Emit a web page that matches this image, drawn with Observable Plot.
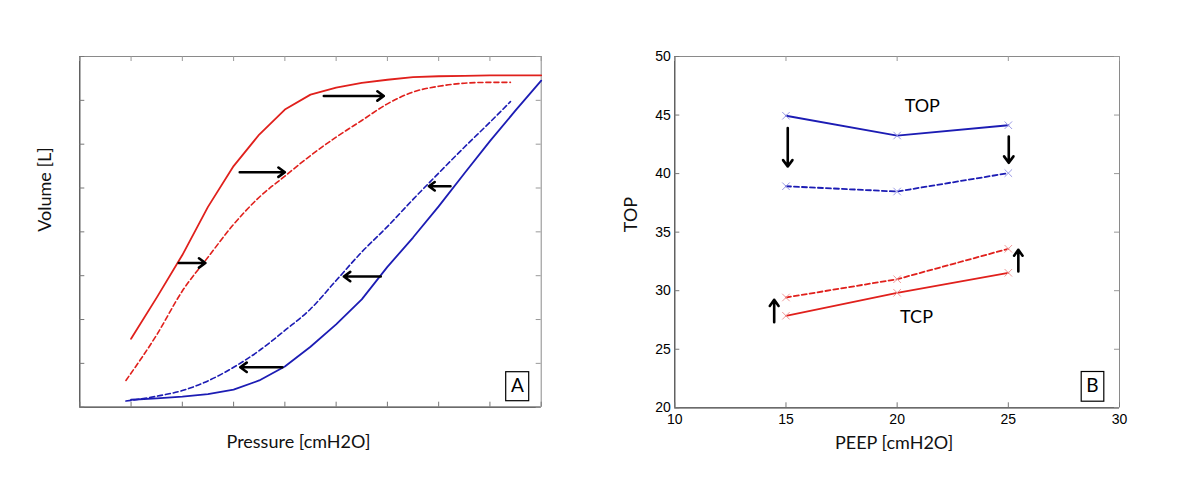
<!DOCTYPE html>
<html><head><meta charset="utf-8">
<script src="https://cdn.jsdelivr.net/npm/d3@7"></script>
<script src="https://cdn.jsdelivr.net/npm/@observablehq/plot@0.6"></script>
<style>
body{margin:0;background:#fff;}
#wrap{position:relative;width:1200px;height:480px;overflow:hidden;}
#a,#b{position:absolute;top:0;}
#a{left:0}#b{left:600px}
</style></head><body><div id="wrap"><div id="a"></div><div id="b"></div></div>
<script>
// ---------- Panel A : pressure-volume curves ----------
const aTicksX = [0,1,2,3,4,5,6,7,8,9];
const aTicksY = [0,1,2,3,4,5,6,7,8];
const inflSolidX = [1,1.5,2,2.5,3,3.5,4,4.5,5,5.5,6,6.5,7,7.5,8,8.5,9];
const inflSolidY = [1.56,2.5,3.47,4.57,5.5,6.22,6.79,7.13,7.29,7.4,7.47,7.53,7.55,7.56,7.57,7.57,7.57];
const inflDashX = [0.9,1.5,2,2.5,3,3.5,4,4.5,5,5.5,6,6.5,7,7.5,8,8.4];
const inflDashY = [0.61,1.65,2.65,3.42,4.17,4.79,5.27,5.74,6.16,6.54,6.92,7.19,7.32,7.39,7.41,7.41];
const deflSolidX = [1,1.5,2,2.5,3,3.5,4,4.5,5,5.5,6,6.5,7,7.5,8,8.5,9];
const deflSolidY = [0.17,0.2,0.24,0.3,0.4,0.61,0.93,1.38,1.89,2.46,3.2,3.87,4.58,5.33,6.07,6.77,7.45];
const deflDashX = [0.9,1.5,2,2.5,3,3.5,4,4.5,5,5.5,6,6.5,7,7.5,8,8.4];
const deflDashY = [0.14,0.25,0.38,0.6,0.91,1.29,1.75,2.24,2.89,3.54,4.12,4.74,5.34,5.93,6.5,6.97];
const aArrowX1 = [1.93,3.12,4.76,7.23,5.87,3.95];
const aArrowX2 = [2.45,4.0,5.93,6.81,5.15,3.13];
const aArrowY  = [3.29,5.36,7.10,5.04,2.98,0.91];
const aLabel = ["A"];

// ---------- Panel B : TOP / TCP vs PEEP ----------
const peep = [15,20,25];
const topBefore = [44.94,43.25,44.13];
const topAfter  = [38.92,38.47,40.04];
const tcpBefore = [27.86,29.82,31.53];
const tcpAfter  = [29.42,30.98,33.58];
const bTicksX = [10,15,20,25,30];
const bTicksY = [20,25,30,35,40,45,50];
const bArrowX  = [15.08,25.02,14.47,25.45];
const bArrowY1 = [43.9,43.17,27.3,31.64];
const bArrowY2 = [40.6,40.92,29.22,33.49];
const bNotes = ["TOP","TCP"];
const bNoteX = [21.13,20.87];
const bNoteY = [45.76,27.7];
const bLabel = ["B"];

const RED = "#e0201c", BLUE = "#1c1cb4";
const RED_M = "#f09a9a", BLUE_M = "#9a9ae6";
const LBL = "Lato, 'Open Sans', sans-serif";
const NUM = "'Liberation Sans', Arial, sans-serif";

const pts = (xs, ys) => xs.map((x, i) => ({x, y: ys[i]}));

function frameMarks(tx, ty, ih, iw, dom) {
  return [
    Plot.ruleX([dom.x[1]], {stroke: "#8a8a8a", strokeWidth: 1}),
    Plot.ruleY([dom.y[1]], {stroke: "#8a8a8a", strokeWidth: 1}),
    Plot.ruleX([dom.x[0]], {stroke: "#3a3a3a", strokeWidth: 1.2}),
    Plot.ruleY([dom.y[0]], {stroke: "#3a3a3a", strokeWidth: 1.2}),
    Plot.tickX(tx, {x: d => d, insetTop: ih - 5, stroke: "#777"}),
    Plot.tickX(tx, {x: d => d, insetBottom: ih - 5, stroke: "#999"}),
    Plot.tickY(ty, {y: d => d, insetRight: iw - 5, stroke: "#777"}),
    Plot.tickY(ty, {y: d => d, insetLeft: iw - 5, stroke: "#999"})
  ];
}
const arrowStyle = {stroke: "#000", strokeWidth: 2.6, headLength: 4.6, headAngle: 72};

// Panel A
{
  const W = 600, H = 480, mL = 79.3, mR = 59.3, mT = 56, mB = 73.3;
  const ih = H - mT - mB, iw = W - mL - mR;
  const dom = {x: [0, 9], y: [0, 8]};
  const chart = Plot.plot({
    width: W, height: H, marginLeft: mL, marginRight: mR, marginTop: mT, marginBottom: mB,
    x: {domain: dom.x, axis: null},
    y: {domain: dom.y, axis: null},
    style: {background: "#fff"},
    marks: [
      ...frameMarks(aTicksX, aTicksY, ih, iw, dom),
      Plot.line(pts(inflSolidX, inflSolidY), {x: "x", y: "y", stroke: RED, strokeWidth: 1.8}),
      Plot.line(pts(inflDashX, inflDashY), {x: "x", y: "y", curve: "monotone-x", stroke: RED, strokeWidth: 1.6, strokeDasharray: "5,3"}),
      Plot.line(pts(deflSolidX, deflSolidY), {x: "x", y: "y", stroke: BLUE, strokeWidth: 1.8}),
      Plot.line(pts(deflDashX, deflDashY), {x: "x", y: "y", curve: "monotone-x", stroke: BLUE, strokeWidth: 1.6, strokeDasharray: "5,3"}),
      Plot.arrow(aArrowX1.map((x, i) => ({x1: x, x2: aArrowX2[i], y: aArrowY[i]})),
        {x1: "x1", x2: "x2", y1: "y", y2: "y", ...arrowStyle}),
      Plot.frame({stroke: "#000", strokeWidth: 1.2, insetLeft: iw - 35.5, insetRight: 12.5, insetTop: ih - 35.5, insetBottom: 6.5}),
      Plot.text(aLabel, {text: d => d, frameAnchor: "bottom-right", textAnchor: "middle", lineAnchor: "middle", dx: -23.7, dy: -21.5, fontSize: 19, fontFamily: LBL, fill: "#000"}),
      Plot.text(["Pressure [cmH2O]"], {text: d => d, frameAnchor: "bottom", lineAnchor: "middle", dx: -12, dy: 35, fontSize: 18, fontFamily: LBL, fill: "#111"}),
      Plot.text(["Volume [L]"], {text: d => d, frameAnchor: "left", lineAnchor: "middle", dx: -35, rotate: -90, fontSize: 18, fontFamily: LBL, fill: "#111"})
    ]
  });
  document.getElementById("a").append(chart);
}

// Panel B
{
  const W = 600, H = 480, mL = 74.3, mR = 81, mT = 56, mB = 72.7;
  const ih = H - mT - mB, iw = W - mL - mR;
  const dom = {x: [10, 30], y: [20, 50]};
  const series = [
    {ys: topBefore, c: BLUE, m: BLUE_M, dash: null},
    {ys: topAfter, c: BLUE, m: BLUE_M, dash: "5,3"},
    {ys: tcpBefore, c: RED, m: RED_M, dash: null},
    {ys: tcpAfter, c: RED, m: RED_M, dash: "5,3"}
  ];
  const lineMarks = series.flatMap(s => [
    Plot.line(pts(peep, s.ys), {x: "x", y: "y", stroke: s.c, strokeWidth: 1.8, strokeDasharray: s.dash}),
    Plot.dot(pts(peep, s.ys), {x: "x", y: "y", symbol: "times", r: 3.5, stroke: s.m, strokeWidth: 1})
  ]);
  const chart = Plot.plot({
    width: W, height: H, marginLeft: mL, marginRight: mR, marginTop: mT, marginBottom: mB,
    x: {domain: dom.x},
    y: {domain: dom.y},
    style: {background: "#fff"},
    marks: [
      Plot.axisX(bTicksX, {tickSize: 0, tickPadding: 6, label: null, fontSize: 14, fontFamily: NUM, fill: "#000"}),
      Plot.axisY(bTicksY, {tickSize: 0, tickPadding: 4, label: null, fontSize: 14, fontFamily: NUM, fill: "#000"}),
      ...frameMarks(bTicksX, bTicksY, ih, iw, dom),
      ...lineMarks,
      Plot.arrow(bArrowX.map((x, i) => ({x, y1: bArrowY1[i], y2: bArrowY2[i]})),
        {x1: "x", x2: "x", y1: "y1", y2: "y2", ...arrowStyle}),
      Plot.text(bNotes, {x: (d, i) => bNoteX[i], y: (d, i) => bNoteY[i], text: d => d, fontSize: 18, fontFamily: LBL, fill: "#000"}),
      Plot.frame({stroke: "#000", strokeWidth: 1.2, insetLeft: iw - 38.3, insetRight: 15.7, insetTop: ih - 36.3, insetBottom: 6.6}),
      Plot.text(bLabel, {text: d => d, frameAnchor: "bottom-right", textAnchor: "middle", lineAnchor: "middle", dx: -27, dy: -21.5, fontSize: 19, fontFamily: LBL, fill: "#000"}),
      Plot.text(["PEEP [cmH2O]"], {text: d => d, frameAnchor: "bottom", lineAnchor: "middle", dx: -3, dy: 35, fontSize: 18, fontFamily: LBL, fill: "#111"}),
      Plot.text(["TOP"], {text: d => d, frameAnchor: "left", lineAnchor: "middle", dx: -44, rotate: -90, fontSize: 18, fontFamily: LBL, fill: "#111"})
    ]
  });
  document.getElementById("b").append(chart);
}
</script></body></html>
